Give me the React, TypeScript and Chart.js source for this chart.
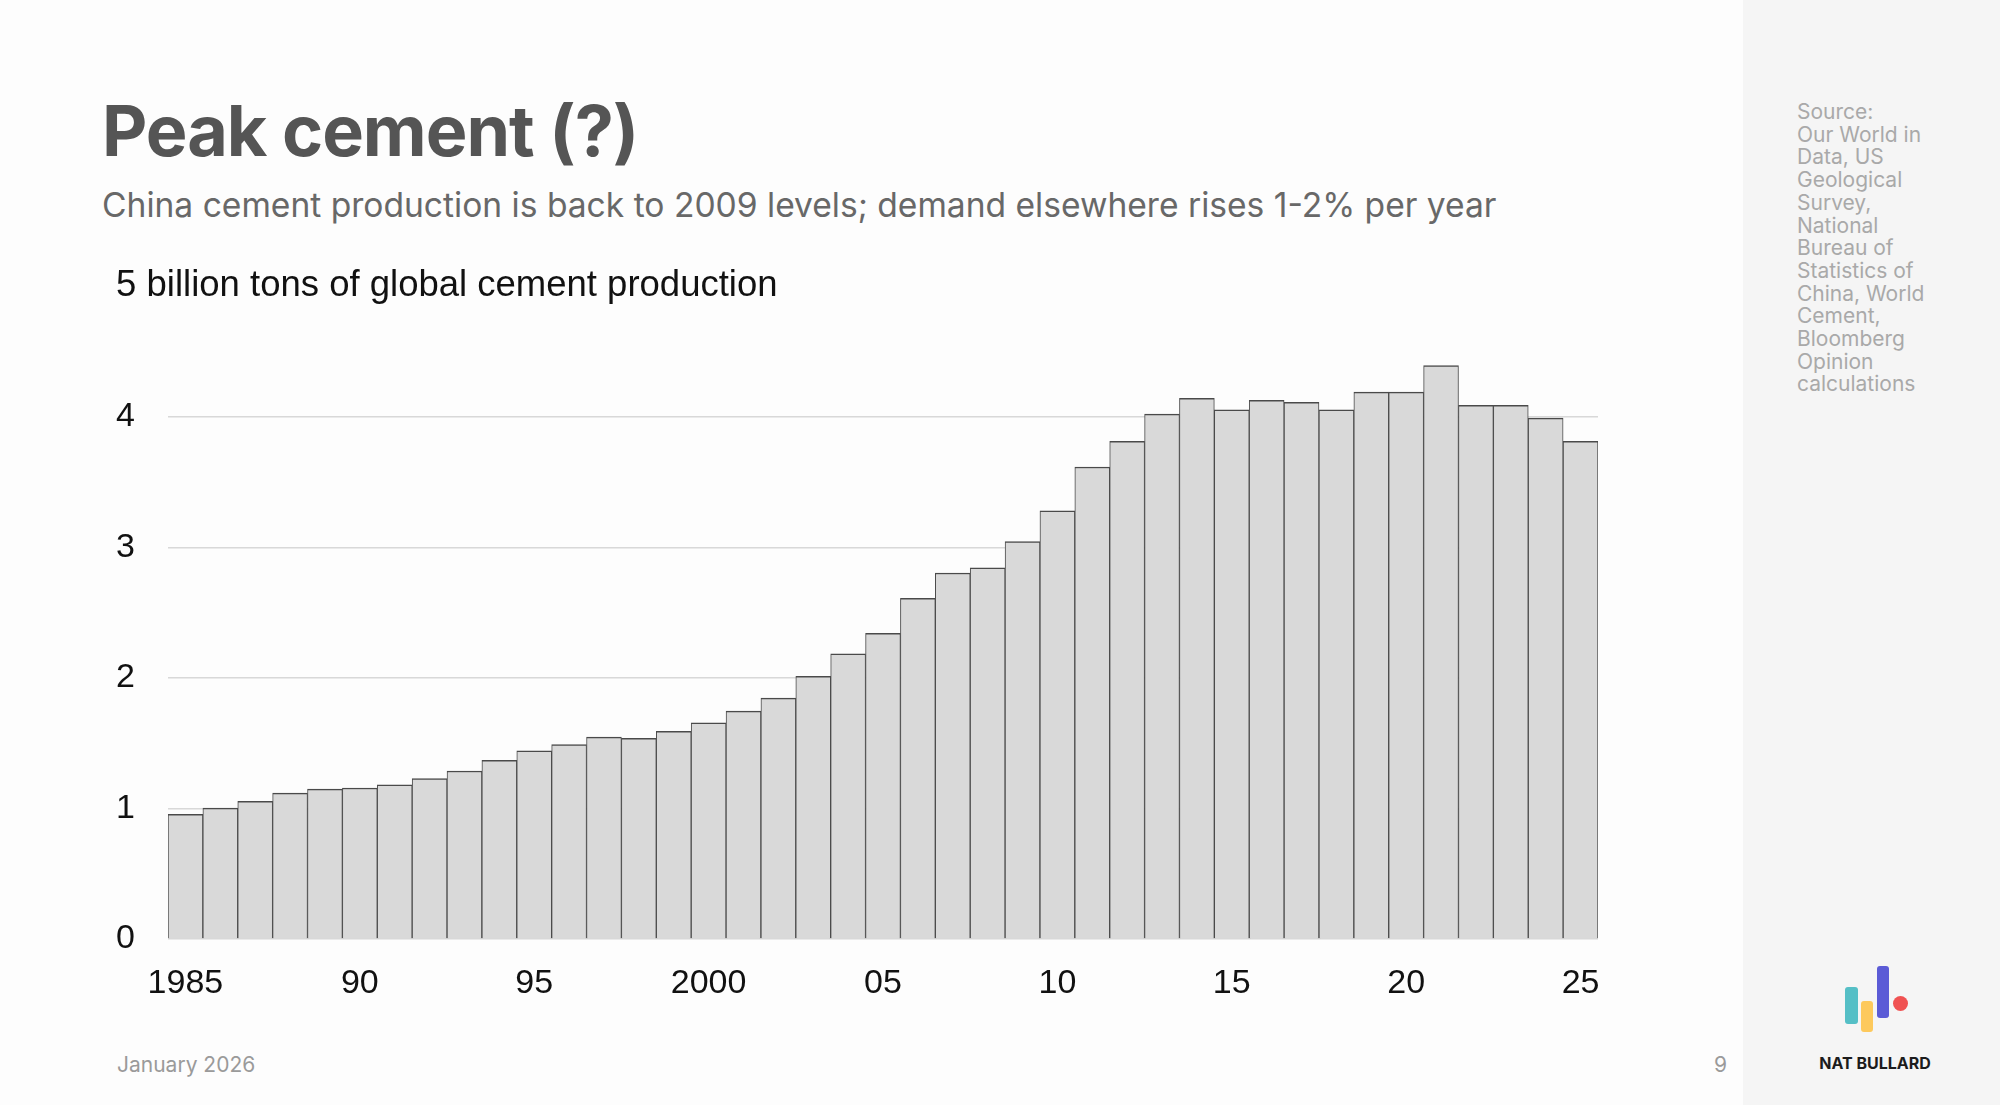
import React, { useEffect, useRef } from 'react';
import { Chart, registerables } from 'chart.js';

Chart.register(...registerables);

// ---------- Data ----------
const years = [
  1985, 1986, 1987, 1988, 1989, 1990, 1991, 1992, 1993, 1994,
  1995, 1996, 1997, 1998, 1999, 2000, 2001, 2002, 2003, 2004,
  2005, 2006, 2007, 2008, 2009, 2010, 2011, 2012, 2013, 2014,
  2015, 2016, 2017, 2018, 2019, 2020, 2021, 2022, 2023, 2024, 2025,
];

// Global cement production, billion tons
const production = [
  0.955, 1.003, 1.054, 1.118, 1.148, 1.157, 1.181, 1.23, 1.287, 1.369,
  1.441, 1.489, 1.547, 1.538, 1.592, 1.656, 1.746, 1.846, 2.012, 2.184,
  2.341, 2.61, 2.804, 2.843, 3.045, 3.281, 3.616, 3.813, 4.021, 4.142,
  4.054, 4.127, 4.112, 4.054, 4.19, 4.19, 4.393, 4.088, 4.088, 3.991, 3.813,
];

const xTickYears = [1985, 1990, 1995, 2000, 2005, 2010, 2015, 2020, 2025];
const xTickLabels = ['1985', '90', '95', '2000', '05', '10', '15', '20', '25'];

const yTickValues = [0, 1, 2, 3, 4, 5];
const yTopLabel = '5 billion tons of global cement production';

const titleText = 'Peak cement (?)';
const subtitleText =
  'China cement production is back to 2009 levels; demand elsewhere rises 1-2% per year';
const sourceLines = [
  'Source:',
  'Our World in',
  'Data, US',
  'Geological',
  'Survey,',
  'National',
  'Bureau of',
  'Statistics of',
  'China, World',
  'Cement,',
  'Bloomberg',
  'Opinion',
  'calculations',
];
const dateText = 'January 2026';
const pageNumber = '9';
const brandName = 'NAT BULLARD';

// ---------- Styling constants ----------
const TICK_FONT_FAMILY = '"Liberation Sans", Arial, Helvetica, sans-serif';
const TICK_SIZE = 34;
const Y_TICK_PAD = 33;
const UI_FONT = 'Inter, "Noto Sans", sans-serif';

const CANVAS_LEFT = 0;
const CANVAS_TOP = 233;
const CANVAS_W = 1700;
const CANVAS_H = 807;
const PLOT_BOTTOM = 939;

const topLabelPlugin = {
  id: 'topLabel',
  afterDraw(chart: any) {
    const y = chart.scales.y;
    const ctx = chart.ctx;
    const topVal = yTickValues[yTickValues.length - 1];
    ctx.save();
    ctx.font = `${TICK_SIZE}px ${TICK_FONT_FAMILY}`;
    const firstWord = yTopLabel.split(' ')[0];
    const w = ctx.measureText(firstWord).width;
    ctx.font = `36.5px ${TICK_FONT_FAMILY}`;
    ctx.fillStyle = '#111111';
    ctx.textAlign = 'left';
    ctx.textBaseline = 'middle';
    ctx.fillText(yTopLabel, y.right - Y_TICK_PAD - w, y.getPixelForValue(topVal));
    ctx.restore();
  },
};

function CementChart() {
  const ref = useRef<HTMLCanvasElement | null>(null);

  useEffect(() => {
    if (!ref.current) return;
    const topVal = yTickValues[yTickValues.length - 1];
    const chart = new Chart(ref.current, {
      type: 'bar',
      data: {
        labels: years.map(String),
        datasets: [
          {
            data: production,
            backgroundColor: '#d9d9d9',
            borderColor: '#4a4a4a',
            borderWidth: { top: 1.5, left: 1, right: 1, bottom: 0 },
            borderSkipped: 'start',
            barPercentage: 1,
            categoryPercentage: 1,
          },
        ],
      },
      options: {
        animation: false,
        responsive: true,
        maintainAspectRatio: false,
        layout: {
          padding: { left: 0, top: 30, right: CANVAS_W - 1598, bottom: 0 },
        },
        plugins: {
          legend: { display: false },
          tooltip: { enabled: false },
        },
        scales: {
          x: {
            grid: { display: false },
            border: { display: false },
            afterFit: (scale: any) => {
              scale.height = CANVAS_H - (PLOT_BOTTOM - CANVAS_TOP);
            },
            ticks: {
              autoSkip: false,
              maxRotation: 0,
              minRotation: 0,
              padding: 16,
              color: '#111111',
              font: { family: TICK_FONT_FAMILY, size: TICK_SIZE },
              callback: (_v: any, idx: number) => {
                const i = xTickYears.indexOf(years[idx]);
                return i >= 0 ? xTickLabels[i] : '';
              },
            },
          },
          y: {
            min: yTickValues[0],
            max: topVal,
            afterFit: (scale: any) => {
              scale.width = 168 - CANVAS_LEFT;
            },
            border: { display: false },
            grid: {
              drawTicks: false,
              lineWidth: 1.5,
              color: (ctx: any) =>
                ctx.tick && ctx.tick.value === topVal ? 'rgba(0,0,0,0)' : '#d8d8d8',
            },
            ticks: {
              stepSize: 1,
              padding: Y_TICK_PAD,
              color: '#111111',
              font: { family: TICK_FONT_FAMILY, size: TICK_SIZE },
              callback: (v: any) => (v === topVal ? '' : String(v)),
            },
          },
        },
      },
      plugins: [topLabelPlugin],
    });
    return () => chart.destroy();
  }, []);

  return (
    <div
      style={{
        position: 'absolute',
        left: CANVAS_LEFT,
        top: CANVAS_TOP,
        width: CANVAS_W,
        height: CANVAS_H,
      }}
    >
      <canvas ref={ref} />
    </div>
  );
}

export default function App() {
  return (
    <div
      style={{
        position: 'fixed',
        left: 0,
        top: 0,
        width: 2000,
        height: 1105,
        background: '#fdfdfd',
        overflow: 'hidden',
        fontFamily: UI_FONT,
      }}
    >
      {/* right sidebar */}
      <div
        style={{
          position: 'absolute',
          left: 1743,
          top: 0,
          width: 257,
          height: 1105,
          background: '#f5f5f5',
        }}
      />
      <div
        style={{
          position: 'absolute',
          left: 102,
          top: 95.5,
          fontSize: 70,
          lineHeight: '70px',
          fontWeight: 700,
          color: '#555555',
          whiteSpace: 'nowrap',
          letterSpacing: '-1px',
        }}
      >
        {titleText}
      </div>
      <div
        style={{
          position: 'absolute',
          left: 102,
          top: 188,
          fontSize: 33.6,
          lineHeight: '33.6px',
          color: '#686868',
          whiteSpace: 'nowrap',
        }}
      >
        {subtitleText}
      </div>

      <CementChart />

      <div
        style={{
          position: 'absolute',
          left: 1797,
          top: 101,
          fontSize: 21,
          lineHeight: '22.7px',
          color: '#a9a9a9',
        }}
      >
        {sourceLines.map((l, i) => (
          <div key={i}>{l}</div>
        ))}
      </div>

      <div
        style={{
          position: 'absolute',
          left: 117,
          top: 1052,
          fontSize: 21,
          lineHeight: '26px',
          color: '#9a9a9a',
        }}
      >
        {dateText}
      </div>
      <div
        style={{
          position: 'absolute',
          left: 1714,
          top: 1052,
          fontSize: 21,
          lineHeight: '26px',
          color: '#9a9a9a',
        }}
      >
        {pageNumber}
      </div>

      {/* logo */}
      <div style={{ position: 'absolute', left: 1845, top: 987, width: 13, height: 37, background: '#55bfc6', borderRadius: 3 }} />
      <div style={{ position: 'absolute', left: 1861, top: 1001, width: 12, height: 31, background: '#fdc95c', borderRadius: 3 }} />
      <div style={{ position: 'absolute', left: 1877, top: 966, width: 12, height: 52, background: '#5b5bd6', borderRadius: 3 }} />
      <div style={{ position: 'absolute', left: 1893, top: 996, width: 15, height: 15, background: '#f05252', borderRadius: '50%' }} />
      <div
        style={{
          position: 'absolute',
          left: 1819,
          top: 1053,
          width: 112,
          textAlign: 'center',
          fontSize: 16,
          lineHeight: '20px',
          fontWeight: 700,
          color: '#1c1c1c',
          whiteSpace: 'nowrap',
        }}
      >
        {brandName}
      </div>
    </div>
  );
}
